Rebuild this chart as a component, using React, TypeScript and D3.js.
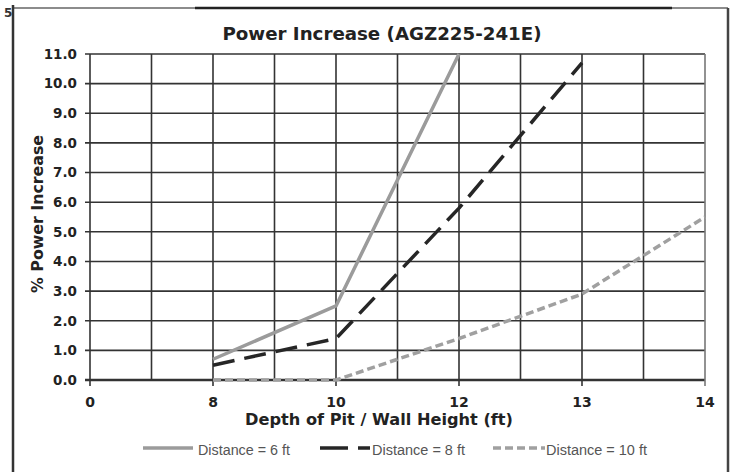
import React from "react";
import * as d3 from "d3";

const categories = ["0", "8", "10", "12", "13", "14"];
const dist6: (number | null)[] = [null, 0.7, 2.5, 11.0, null, null];
const dist8: (number | null)[] = [null, 0.5, 1.4, 5.8, 10.7, null];
const dist10: (number | null)[] = [null, 0.0, 0.0, 1.4, 2.9, 5.5];
const yTicks = [0, 1, 2, 3, 4, 5, 6, 7, 8, 9, 10, 11];
const seriesNames = ["Distance = 6 ft", "Distance = 8 ft", "Distance = 10 ft"];

const W = 735;
const H = 472;
const plot = { left: 90, right: 705, top: 54, bottom: 380 };

export default function App() {
  const x = d3.scaleLinear().domain([0, categories.length - 1]).range([plot.left, plot.right]);
  const y = d3.scaleLinear().domain([0, 11]).range([plot.bottom, plot.top]);

  const line = d3
    .line<number | null>()
    .defined((d) => d !== null)
    .x((_, i) => x(i))
    .y((d) => y(d as number));

  const vGrid = d3.range(0, categories.length - 0.5, 0.5);

  const series = [
    { data: dist6, color: "#9b9b9b", dash: "none", width: 3.5 },
    { data: dist8, color: "#262626", dash: "22 10", width: 3.5 },
    { data: dist10, color: "#a0a0a0", dash: "8 4", width: 3.5 },
  ];

  const legendItems = [
    { x1: 143, x2: 193, tx: 198, tl: 92, dash: "none", color: "#9b9b9b" },
    { x1: 320, x2: 370, tx: 372, tl: 93, dash: "28 10", color: "#262626" },
    { x1: 493, x2: 545, tx: 546, tl: 101, dash: "8 4", color: "#a0a0a0" },
  ];

  const bold = "'DejaVu Sans', sans-serif";

  return (
    <svg
      width={W}
      height={H}
      style={{ position: "absolute", left: 0, top: 0, background: "#fff" }}
    >
      <rect x={0} y={0} width={W} height={H} fill="#fff" />
      {/* outer frame */}
      <line x1={13} x2={728} y1={8} y2={8} stroke="#666" strokeWidth={1.5} />
      <line x1={195} x2={672} y1={8} y2={8} stroke="#222" strokeWidth={2.5} />
      <line x1={13} x2={13} y1={5} y2={H} stroke="#333" strokeWidth={2.5} />
      <line x1={728} x2={728} y1={8} y2={H} stroke="#444" strokeWidth={2.5} />
      <text x={4} y={17} fontFamily={bold} fontWeight="bold" fontSize={12} fill="#333">
        5
      </text>

      {/* title */}
      <text
        x={382}
        y={40}
        textAnchor="middle"
        fontFamily={bold}
        fontWeight="bold"
        fontSize={18}
        fill="#222"
        textLength={319}
        lengthAdjust="spacingAndGlyphs"
      >
        Power Increase (AGZ225-241E)
      </text>

      {/* horizontal grid */}
      {yTicks.map((t) => (
        <line
          key={"h" + t}
          x1={plot.left - 5}
          x2={plot.right}
          y1={y(t)}
          y2={y(t)}
          stroke="#333"
          strokeWidth={t === 0 ? 2.5 : 1.6}
        />
      ))}
      {/* vertical grid */}
      {vGrid.map((v) => (
        <line
          key={"v" + v}
          x1={x(v)}
          x2={x(v)}
          y1={plot.top}
          y2={Number.isInteger(v) ? plot.bottom + 6 : plot.bottom}
          stroke={v === categories.length - 1 ? "#777" : "#333"}
          strokeWidth={1.6}
        />
      ))}

      {/* y tick labels */}
      {yTicks.map((t) => (
        <text
          key={"yl" + t}
          x={77}
          y={y(t)}
          dy="0.36em"
          textAnchor="end"
          fontFamily={bold}
          fontWeight="bold"
          fontSize={13.5}
          fill="#222"
        >
          {t.toFixed(1)}
        </text>
      ))}
      {/* x tick labels */}
      {categories.map((c, i) => (
        <text
          key={"xl" + c}
          x={x(i)}
          y={407}
          textAnchor="middle"
          fontFamily={bold}
          fontWeight="bold"
          fontSize={14}
          fill="#222"
        >
          {c}
        </text>
      ))}

      {/* axis titles */}
      <text
        transform="translate(43,214) rotate(-90)"
        textAnchor="middle"
        fontFamily={bold}
        fontWeight="bold"
        fontSize={15}
        fill="#222"
        textLength={158}
        lengthAdjust="spacingAndGlyphs"
      >
        % Power Increase
      </text>
      <text
        x={379}
        y={425}
        textAnchor="middle"
        fontFamily={bold}
        fontWeight="bold"
        fontSize={15.5}
        fill="#222"
        textLength={268}
        lengthAdjust="spacingAndGlyphs"
      >
        Depth of Pit / Wall Height (ft)
      </text>

      {/* series */}
      {series.map((s, i) => (
        <path
          key={"s" + i}
          d={line(s.data) || ""}
          fill="none"
          stroke={s.color}
          strokeWidth={s.width}
          strokeDasharray={s.dash}
          strokeLinejoin="round"
        />
      ))}

      {/* legend */}
      {legendItems.map((l, i) => (
        <g key={"lg" + i}>
          <line
            x1={l.x1}
            x2={l.x2}
            y1={448}
            y2={448}
            stroke={l.color}
            strokeWidth={3.5}
            strokeDasharray={l.dash}
          />
          <text
            x={l.tx}
            y={455}
            fontFamily="'Liberation Sans', Arial, sans-serif"
            fontSize={14}
            fill="#555"
            textLength={l.tl}
            lengthAdjust="spacingAndGlyphs"
          >
            {seriesNames[i]}
          </text>
        </g>
      ))}
    </svg>
  );
}
